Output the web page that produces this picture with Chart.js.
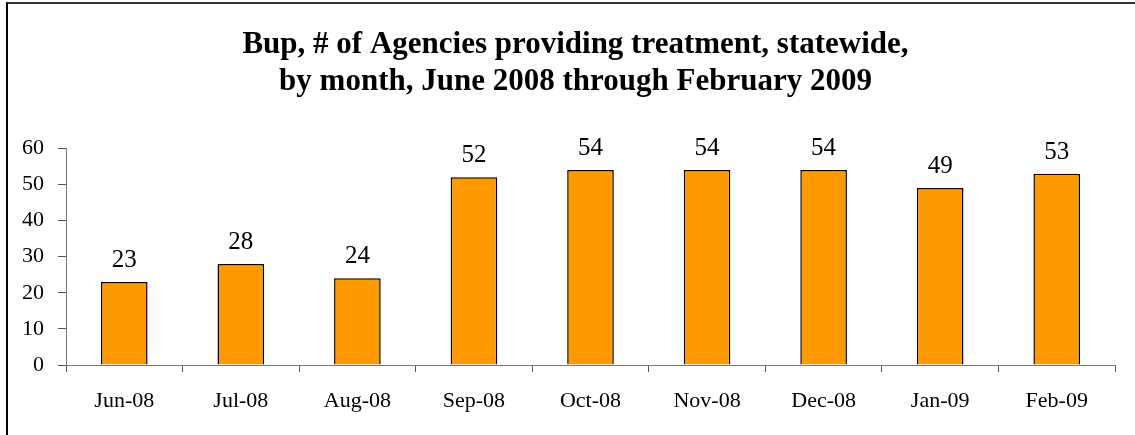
<!DOCTYPE html>
<html>
<head>
<meta charset="utf-8">
<script src="https://cdn.jsdelivr.net/npm/chart.js@4"></script>
<style>
  html, body { margin: 0; padding: 0; background: #fff; }
  #wrap { position: relative; width: 1135px; height: 435px; overflow: hidden; }
  #frame { position: absolute; left: 6px; top: 2px; width: 1200px; height: 500px;
           border-top: 2px solid #333; border-left: 2px solid #000; pointer-events: none; }
  canvas { position: absolute; left: 0; top: 0; }
</style>
</head>
<body>
<div id="wrap">
  <canvas id="chart" width="1135" height="435"></canvas>
  <div id="frame"></div>
</div>
<script>
const months = ['Jun-08', 'Jul-08', 'Aug-08', 'Sep-08', 'Oct-08', 'Nov-08', 'Dec-08', 'Jan-09', 'Feb-09'];
const agencies = [23, 28, 24, 52, 54, 54, 54, 49, 53];
const yTicks = [0, 10, 20, 30, 40, 50, 60];

const serif = '"Liberation Serif", "Times New Roman", serif';

// value above each bar
const valueLabels = {
  id: 'valueLabels',
  afterDatasetsDraw(chart) {
    const ctx = chart.ctx;
    ctx.save();
    ctx.font = '25px ' + serif;
    ctx.fillStyle = '#000';
    ctx.textAlign = 'center';
    ctx.textBaseline = 'alphabetic';
    chart.getDatasetMeta(0).data.forEach((bar, i) => {
      ctx.fillText(agencies[i], bar.x, bar.y - 15);
    });
    ctx.restore();
  }
};

// title sits a bit right of the canvas centre in the original
const shiftTitle = {
  id: 'shiftTitle',
  afterLayout(chart) {
    const t = chart.titleBlock;
    if (t) { t.left += 18; t.right += 18; }
  }
};

const ctx = document.getElementById('chart').getContext('2d');
new Chart(ctx, {
  type: 'bar',
  data: {
    labels: months,
    datasets: [{
      data: agencies,
      backgroundColor: '#FF9900',
      borderColor: '#000',
      borderWidth: 1.5,
      barPercentage: 0.8,
      categoryPercentage: 0.5
    }]
  },
  options: {
    responsive: false,
    animation: false,
    layout: { padding: { left: 0, right: 20, top: 0, bottom: 0 } },
    plugins: {
      legend: { display: false },
      tooltip: { enabled: false },
      title: {
        display: true,
        text: ['Bup, # of Agencies providing treatment, statewide,', 'by month, June 2008 through February 2009'],
        color: '#000',
        font: { family: serif, size: 31, weight: 'bold', lineHeight: 1.2 },
        padding: { top: 26, bottom: 48 }
      }
    },
    scales: {
      x: {
        grid: { drawOnChartArea: false, tickLength: 7, color: '#555', offset: true },
        border: { color: '#777', width: 1 },
        ticks: { color: '#000', font: { family: serif, size: 22 }, padding: 16 },
        afterFit(scale) { scale.height = 70; }
      },
      y: {
        min: 0,
        max: 60,
        afterBuildTicks(scale) { scale.ticks = yTicks.map(v => ({ value: v })); },
        grid: { drawOnChartArea: false, tickLength: 8, color: '#555' },
        border: { color: '#777', width: 1 },
        ticks: { color: '#000', font: { family: serif, size: 22 }, padding: 14 },
        afterFit(scale) { scale.width = 66; }
      }
    }
  },
  plugins: [valueLabels, shiftTitle]
});
</script>
</body>
</html>
